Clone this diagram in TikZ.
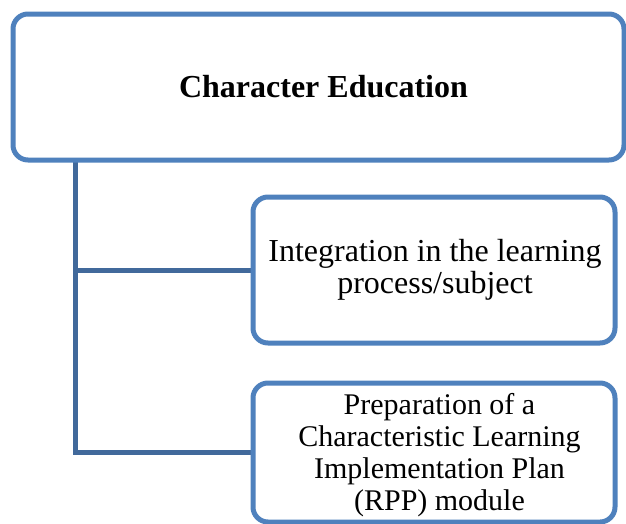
\documentclass[tikz,border=0pt]{standalone}
\usepackage{fontspec}
\setmainfont{Liberation Serif}
\usetikzlibrary{backgrounds}
\definecolor{boxblue}{HTML}{4F81BD}
\definecolor{linkblue}{HTML}{41699B}
\begin{document}
\begin{tikzpicture}[x=1pt,y=-1pt,
  box/.style={draw=boxblue, line width=5pt, rounded corners=15pt, fill=white,
    inner sep=0pt},
  txt/.style={inner sep=0pt, align=center},
  conn/.style={draw=linkblue, line width=5pt}]
\useasboundingbox (0,0) rectangle (626,523);
\node[box, minimum width=611pt, minimum height=146pt] (top) at (318.5,87) {};
\node[txt, font=\fontsize{32}{32}\selectfont\bfseries] (toptext) at (323.5,87) {Character Education};
\node[box, minimum width=362pt, minimum height=146pt] (b1) at (434,270) {};
\node[txt, font=\fontsize{32}{32}\selectfont] (b1text) at (435,270)
  {Integration in the learning\\process/subject};
\node[box, minimum width=362pt, minimum height=139pt] (b2) at (434,452.5) {};
\node[txt, font=\fontsize{30}{32}\selectfont] (b2text) at (439.5,455)
  {Preparation of a\\Characteristic Learning\\Implementation Plan\\(RPP) module};
\coordinate (trunk) at (75,160);
\begin{pgfonlayer}{background}
\draw[conn] (trunk) |- (b2.west);
\draw[conn] (trunk |- b1.west) -- (b1.west);
\end{pgfonlayer}
\end{tikzpicture}
\end{document}
